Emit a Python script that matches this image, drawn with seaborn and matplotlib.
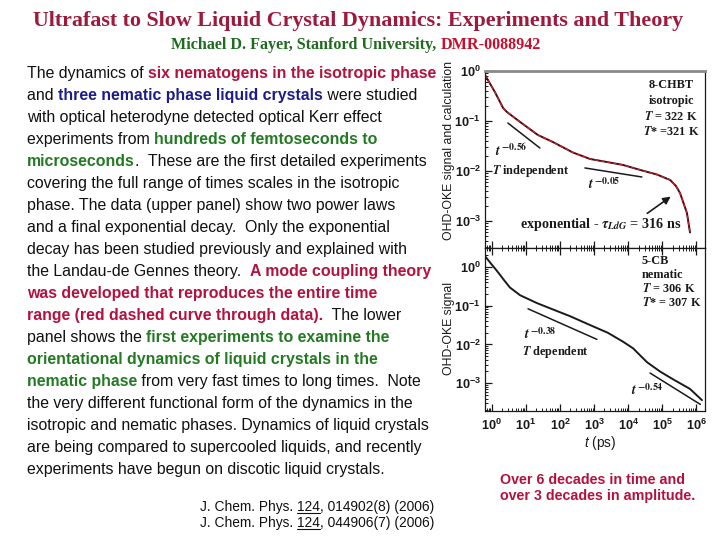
import numpy as np
import pandas as pd
import matplotlib
matplotlib.use("Agg")
import matplotlib.pyplot as plt
from matplotlib.ticker import FuncFormatter, LogLocator, NullFormatter
from matplotlib.lines import Line2D
import seaborn as sns

# ---------------- data ----------------
iso_t = [0.631, 1.23, 2.14, 2.79, 6.76, 22.4, 61.7, 240, 759, 2400, 7080,
         22400, 69200, 170000, 251000, 331000, 398000, 525000, 646000]
iso_signal = [0.832, 0.380, 0.182, 0.151, 0.0955, 0.0525, 0.0380, 0.0234, 0.0174,
              0.0151, 0.0132, 0.0105, 0.0085, 0.0066, 0.0050, 0.0036, 0.0025,
              0.00145, 0.00059]
iso_calc = [0.832, 0.380, 0.182, 0.151, 0.0955, 0.0525, 0.0380, 0.0234, 0.0174,
            0.0151, 0.0132, 0.0105, 0.0085, 0.0066, 0.0050, 0.0036, 0.0025,
            0.00145, 0.00059]

nem_t = [0.631, 1.0, 1.41, 2.19, 3.39, 6.76, 20.9, 63.1, 195, 759, 2510, 7080,
         13800, 35500, 85100, 204000, 646000, 1450000]
nem_signal = [1.905, 1.148, 0.794, 0.479, 0.295, 0.186, 0.117, 0.0794, 0.0537,
              0.0316, 0.0200, 0.0117, 0.00794, 0.00347, 0.00200, 0.00126,
              0.000708, 0.000363]

# power-law guide segments
iso_fast_t = [2.95, 25.7]
iso_fast_y = [0.0912, 0.0288]
iso_slow_t = [537, 25100]
iso_slow_y = [0.0115, 0.00759]
iso_arrow_tail = (31000, 0.00132)
iso_arrow_head = (204000, 0.00331)

nem_fast_t = [11.5, 1200]
nem_fast_y = [0.0832, 0.0135]
nem_slow_t = [43600, 1300000]
nem_slow_y = [0.00182, 0.000282]

decade_ticks = [1e0, 1e1, 1e2, 1e3, 1e4, 1e5, 1e6]
amp_ticks = [1e0, 1e-1, 1e-2, 1e-3]

# ---------------- style ----------------
sns.set_theme(style="white")
plt.rcParams["font.family"] = ["Liberation Sans", "DejaVu Sans"]
plt.rcParams["mathtext.fontset"] = "custom"
plt.rcParams["mathtext.rm"] = "Liberation Sans"
plt.rcParams["mathtext.it"] = "Liberation Sans:italic"
plt.rcParams["mathtext.bf"] = "Liberation Sans:bold"

W, H = 720, 540
RED = "#B3123E"
TITLE_RED = "#9E1A3C"
BLUE = "#1C1C8C"
GREEN = "#237A23"
BLK = "#111111"


def fx(x):
    return x / W


def fy(y):
    return 1 - y / H


fig = plt.figure(figsize=(7.2, 5.4), dpi=100)
fig.patch.set_facecolor("white")
renderer = fig.canvas.get_renderer()

ax1 = fig.add_axes([fx(485), fy(248), 220 / W, 177 / H])
ax2 = fig.add_axes([fx(485), fy(411), 220 / W, 163 / H])

iso_df = pd.DataFrame({"t": iso_t, "signal": iso_signal, "calc": iso_calc})
nem_df = pd.DataFrame({"t": nem_t, "signal": nem_signal})

for ax in (ax1, ax2):
    ax.set_xscale("log")
    ax.set_yscale("log")
    ax.set_facecolor("white")

sns.lineplot(data=iso_df, x="t", y="signal", ax=ax1, color="#3a0c12", lw=1.4,
             estimator=None, sort=False, legend=False)
sns.lineplot(data=iso_df, x="t", y="calc", ax=ax1, color="#d8202c", lw=0.9,
             linestyle=(0, (3, 2)), estimator=None, sort=False, legend=False)
sns.lineplot(x=iso_fast_t, y=iso_fast_y, ax=ax1, color="k", lw=1.1)
sns.lineplot(x=iso_slow_t, y=iso_slow_y, ax=ax1, color="k", lw=1.1)
ax1.annotate("", xy=iso_arrow_head, xytext=iso_arrow_tail,
             arrowprops=dict(arrowstyle="-|>", color="k", lw=1.2, mutation_scale=11))

sns.lineplot(data=nem_df, x="t", y="signal", ax=ax2, color="k", lw=1.4,
             estimator=None, sort=False, legend=False)
sns.lineplot(x=nem_fast_t, y=nem_fast_y, ax=ax2, color="k", lw=1.1)
sns.lineplot(x=nem_slow_t, y=nem_slow_y, ax=ax2, color="k", lw=1.1)

fmt = FuncFormatter(lambda v, p: r"$\mathbf{10^{%d}}$" % int(round(np.log10(v))))
for ax in (ax1, ax2):
    ax.set_xlim(10 ** -0.2, 10 ** 6.25)
    ax.set_xticks(decade_ticks)
    ax.set_yticks(amp_ticks)
    ax.xaxis.set_minor_locator(LogLocator(base=10, subs=np.arange(2, 10), numticks=100))
    ax.yaxis.set_minor_locator(LogLocator(base=10, subs=np.arange(2, 10), numticks=100))
    ax.xaxis.set_minor_formatter(NullFormatter())
    ax.yaxis.set_minor_formatter(NullFormatter())
    ax.xaxis.set_major_formatter(fmt)
    ax.yaxis.set_major_formatter(fmt)
    ax.set_xlabel("")
    ax.set_ylabel("")
    ax.tick_params(which="major", direction="in", length=5, width=0.9,
                   labelsize=9.2, colors="k", pad=3)
    ax.tick_params(which="minor", direction="in", length=2.5, width=0.7, colors="k")
    for s in ax.spines.values():
        s.set_color("k")
        s.set_linewidth(0.9)

ax1.set_ylim(10 ** -3.54, 1.0)
ax2.set_ylim(10 ** -3.72, 10 ** 0.49)
ax1.tick_params(which="both", bottom=True, top=False, left=True, right=False,
                labelbottom=False)
ax1.spines["top"].set_color("#8a8a8a")
ax1.spines["top"].set_linewidth(2.0)
ax2.tick_params(which="both", bottom=True, top=True, left=True, right=False,
                labelbottom=True, labeltop=False)
ax2.tick_params(axis="x", which="major", pad=5)

# axis labels
fig.text(fx(449), fy(150), "OHD-OKE signal and calculation", rotation=90,
         ha="center", va="center", fontsize=8.8, color="k")
fig.text(fx(449), fy(328), "OHD-OKE signal", rotation=90,
         ha="center", va="center", fontsize=8.8, color="k")
fig.text(fx(600), fy(447), r"$\mathit{t}$ (ps)", ha="center", va="baseline",
         fontsize=9.8, color="k")

# serif annotations inside panels
def sf(x, y, s, size=8.8, ha="left"):
    return fig.text(fx(x), fy(y), s, fontsize=size, fontweight="bold",
                    family=["Liberation Serif"], math_fontfamily="stix",
                    ha=ha, va="baseline", color="k")


sf(671, 88, "8-CHBT", ha="center")
sf(671, 104, "isotropic", ha="center")
sf(671, 120, r"$\mathbfit{T}$ = 322 K", ha="center")
sf(671, 135, r"$\mathbfit{T}$* =321 K", ha="center")
sf(495, 156, r"$\mathbfit{t}^{\ \mathbf{-0.56}}$", size=10)
sf(492, 174, r"$\mathbfit{T}$ independent")
sf(588, 189, r"$\mathbfit{t}^{\ \mathbf{-0.05}}$", size=10)
sf(520, 228, r"exponential - $\mathbfit{\tau}_{\mathbfit{LdG}}$ = 316 ns", size=10.2)

sf(642, 264, "5-CB")
sf(642, 278, "nematic")
sf(642, 292, r"$\mathbfit{T}$ = 306 K")
sf(642, 306, r"$\mathbfit{T}$* = 307 K")
sf(524, 339, r"$\mathbfit{t}^{\ \mathbf{-0.38}}$", size=10)
sf(522, 355, r"$\mathbfit{T}$ dependent")
sf(631, 395, r"$\mathbfit{t}^{\ \mathbf{-0.54}}$", size=10)


# rich text helper
def text_width(s, **kw):
    t = fig.text(0, 0, s + "|", **kw)
    w1 = t.get_window_extent(renderer).width
    t.set_text("|")
    w2 = t.get_window_extent(renderer).width
    t.remove()
    return w1 - w2


def rich(x, y, segs, size, family=("Liberation Sans", "DejaVu Sans"), ha="left"):
    kws = []
    widths = []
    for seg in segs:
        txt, color, weight = seg
        kw = dict(fontsize=size, family=list(family), fontweight=weight, color=color)
        kws.append(kw)
        widths.append(text_width(txt, **kw))
    total = sum(widths)
    cur = x - total / 2 if ha == "center" else x
    out = []
    for (txt, _, _), kw, w in zip(segs, kws, widths):
        fig.text(fx(cur), fy(y), txt, ha="left", va="baseline", **kw)
        out.append((cur, w))
        cur += w
    return out


# title
fig.text(fx(358), fy(26), "Ultrafast to Slow Liquid Crystal Dynamics: Experiments and Theory",
         ha="center", va="baseline", fontsize=15.8, fontweight="bold",
         family=["Liberation Serif"], color=TITLE_RED)
rich(356, 49, [("Michael D. Fayer, Stanford University, ", "#1F6B1F", "bold"),
               ("DMR-0088942", "#C8102E", "bold")], 11.6,
     family=("Liberation Serif",), ha="center")

# paragraph
para = [
    [("The dynamics of ", BLK, "normal"), ("six nematogens in the isotropic phase", RED, "bold")],
    [("and ", BLK, "normal"), ("three nematic phase liquid crystals", BLUE, "bold"), (" were studied", BLK, "normal")],
    [("with optical heterodyne detected optical Kerr effect", BLK, "normal")],
    [("experiments from ", BLK, "normal"), ("hundreds of femtoseconds to", GREEN, "bold")],
    [("microseconds", GREEN, "bold"), (".  These are the first detailed experiments", BLK, "normal")],
    [("covering the full range of times scales in the isotropic", BLK, "normal")],
    [("phase. The data (upper panel) show two power laws", BLK, "normal")],
    [("and a final exponential decay.  Only the exponential", BLK, "normal")],
    [("decay has been studied previously and explained with", BLK, "normal")],
    [("the Landau-de Gennes theory.  ", BLK, "normal"), ("A mode coupling theory", RED, "bold")],
    [("was developed that reproduces the entire time", RED, "bold")],
    [("range (red dashed curve through data).", RED, "bold"), ("  The lower", BLK, "normal")],
    [("panel shows the ", BLK, "normal"), ("first experiments to examine the", GREEN, "bold")],
    [("orientational dynamics of liquid crystals in the", GREEN, "bold")],
    [("nematic phase", GREEN, "bold"), (" from very fast times to long times.  Note", BLK, "normal")],
    [("the very different functional form of the dynamics in the", BLK, "normal")],
    [("isotropic and nematic phases. Dynamics of liquid crystals", BLK, "normal")],
    [("are being compared to supercooled liquids, and recently", BLK, "normal")],
    [("experiments have begun on discotic liquid crystals.", BLK, "normal")],
]
for i, segs in enumerate(para):
    rich(27, 78 + 22 * i, segs, 11.4)

# references
for yb, num in ((511, "014902(8)"), (527, "044906(7)")):
    pos = rich(200, yb, [("J. Chem. Phys. ", BLK, "normal"), ("124", BLK, "normal"),
                         (", " + num + " (2006)", BLK, "normal")], 9.95)
    x0, w = pos[1]
    fig.add_artist(Line2D([fx(x0), fx(x0 + w)], [fy(yb + 1.6)] * 2,
                          transform=fig.transFigure, color=BLK, lw=0.8))

# bottom-right note
rich(500, 484, [("Over 6 decades in time and", RED, "bold")], 10.3)
rich(500, 500, [("over 3 decades in amplitude.", RED, "bold")], 10.3)

fig.savefig("out.png", dpi=100, facecolor="white")
